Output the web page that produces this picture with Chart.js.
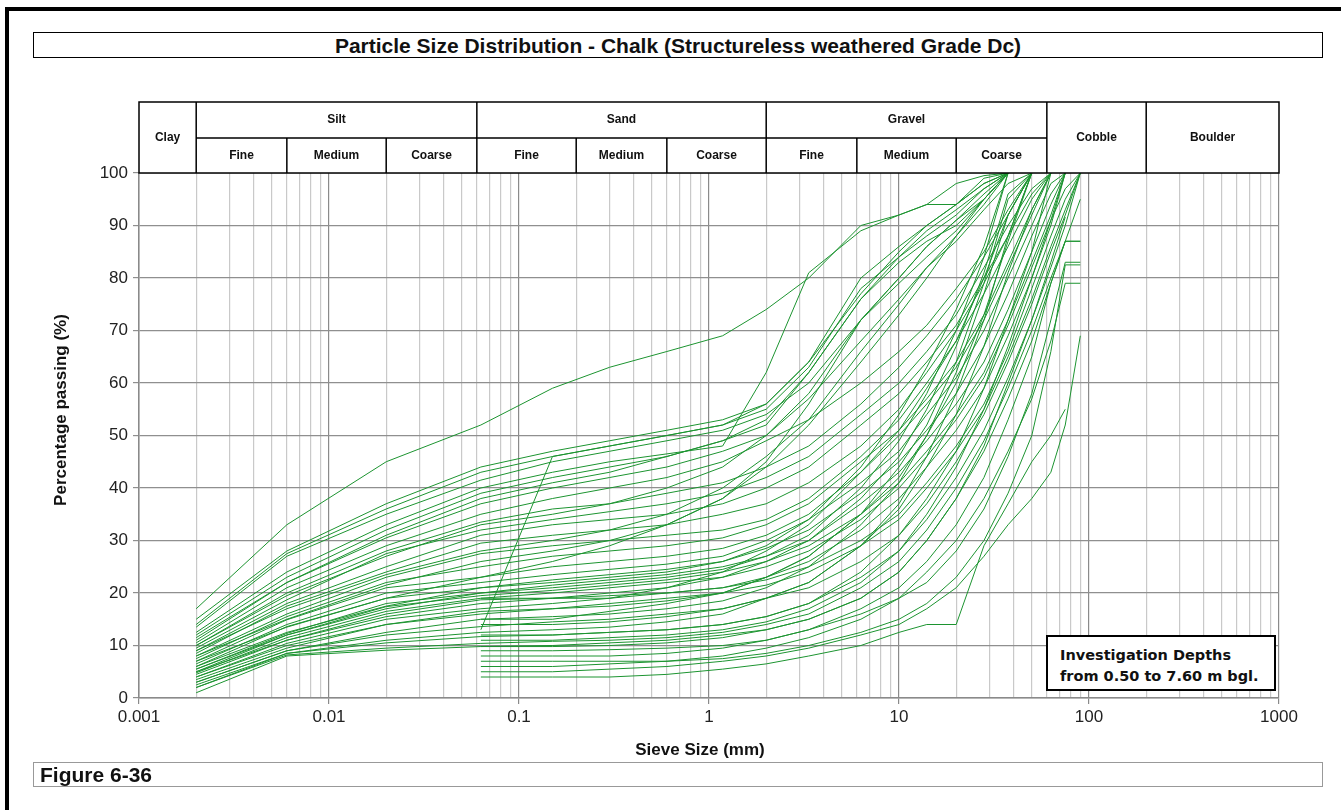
<!DOCTYPE html>
<html>
<head>
<meta charset="utf-8">
<script src="https://cdn.jsdelivr.net/npm/chart.js@4.4.1/dist/chart.umd.min.js"></script>
<style>
    body { margin: 0; width: 1341px; height: 810px; overflow: hidden; position: relative; background: #fff;
           font-family: "Liberation Sans", Arial, sans-serif; }
    #frame { position: absolute; left: 5px; top: 7px; width: 1400px; height: 900px;
             border-left: 4px solid #000; border-top: 4px solid #000; }
    #title { position: absolute; left: 33px; top: 32px; width: 1288px; height: 24px; border: 1px solid #000;
             text-align: center; font-weight: bold; font-size: 21px; line-height: 25px; color: #111; }
    #figure { position: absolute; left: 33px; top: 762px; width: 1282px; height: 23px; border: 1px solid #999;
              padding-left: 6px; font-weight: bold; font-size: 21px; line-height: 24px; color: #111; }
    #note { position: absolute; left: 1046px; top: 635px; width: 214px; height: 44px; border: 2px solid #000;
            background: #fff; padding: 8px 0 0 12px; font-family: "DejaVu Sans", sans-serif; font-weight: bold;
            font-size: 14.5px; line-height: 21px; color: #111; }
    canvas { position: absolute; left: 0; top: 0; }
</style>
</head>
<body>
<div id="frame"></div>
<div id="title">Particle Size Distribution - Chalk (Structureless weathered Grade Dc)</div>
<canvas id="psd" width="1341" height="810"></canvas>
<div id="note">Investigation Depths<br>from 0.50 to 7.60 m bgl.</div>
<div id="figure">Figure 6-36</div>

<script>
// sieve sizes (mm) the percentages below are read at
const sieveSizes = [0.002, 0.006, 0.02, 0.063, 0.15, 0.3, 0.6, 1.18, 2, 3.35, 6.3, 10, 14, 20, 28, 37.5, 50, 63, 75, 90];

// percentage passing per sample (null = not tested)
const samples = [
    [17, 33, 45, 52, 59, 63, 66, 69, 74, 80, 90, 92, 94, 98, 99.5, 100],
    [15, 28, 37, 44, 47, 49, 51, 53, 56, 64, 80, 86, 90, 94, 98, 100],
    [14, 27.5, 36, 43, 46, 48, 50, 52, 55, 63, 78, 84, 88, 92, 97, 100],
    [13.5, 27, 35, 41.5, 45, 47, 49, 51, 54, 60, 72, 79, 84, 89, 95, 100],
    [12.5, 24, 33, 40, 43, 45, 46.5, 48, 62, 81, 89, 92, 94, 94, 99, 100],
    [12, 23, 32, 39, 42, 44, 46, 49, 52, 62, 76, 83, 87, 90, 95, 100],
    [11, 22, 30.5, 37, 40, 42, 44, 47, 50, 57, 68, 76, 82, 87, 93, 98, 100],
    [10.5, 21, 29, 35, 38, 40, 42, 45, 49, 53, 60, 66, 71, 78, 85, 93, 100],
    [10, 20, 28, 33.5, 36, 37, 39, 41, 44, 48, 56, 63, 69, 76, 84, 92, 100],
    [9.5, 18.7, 27.5, 32, 34, 35.5, 37, 39, 42, 46, 54, 60, 66, 73, 82, 90, 97, 100],
    [9, 18, 25, 31, 33, 34, 35, 37, 40, 44, 52, 58, 64, 71, 80, 88, 96, 100],
    [8.5, 17.5, 24, 29.5, 31, 32, 33, 35, 37, 41, 48, 55, 62, 70, 79, 88, 100],
    [8, 16, 23, 27.5, 29, 30, 31, 32, 34, 38, 46, 53, 60, 68, 77, 86, 95, 100],
    [7.5, 15.5, 22, 25, 27, 28, 29, 30.5, 33, 37, 45, 51, 57, 64, 73, 83, 93, 100],
    [7, 14.9, 21, 23, 25, 26, 27, 28.5, 31, 35, 43, 50, 56, 63, 72, 82, 92, 100],
    [6.5, 14, 20, 22, 23.5, 24.5, 25.5, 27, 30, 34, 41, 47, 54, 61, 70, 80, 90, 98, 100],
    [6, 13.6, 19, 21, 22.5, 23.5, 24.5, 26, 28.5, 32, 39, 45, 51, 58, 67, 77, 88, 96, 100],
    [5.5, 12.3, 18, 20, 21.5, 22.5, 23.5, 25, 27, 30, 37, 43, 49, 56, 64, 74, 85, 94, 100],
    [5, 12, 17.4, 19.5, 20.5, 21.5, 22.5, 24, 26, 29, 35, 41, 47, 54, 62, 72, 83, 92, 100],
    [4.8, 11.5, 16.5, 19, 20, 21, 22, 23, 25, 28, 34, 40, 46, 53, 61, 71, 82, 91, 97, 100],
    [4.5, 11, 16, 18.7, 19, 19.5, 20, 21, 23, 26, 32, 38, 44, 51, 59, 69, 80, 90, 100],
    [4, 10.4, 15, 17, 18, 19, 20, 21, 22.5, 25, 30, 35, 41, 48, 56, 66, 78, 88, 95, 100],
    [3.5, 9.5, 14, 16, 17, 18, 19, 20, 21.5, 24, 29, 34, 40, 47, 55, 65, 76, 86, 93, 100],
    [3, 9, 12, 13.6, 14.5, 15, 16, 17, 19, 21, 26, 31, 37, 45, 54, 64, 75, 85, 92, 100],
    [2.5, 8.5, 10.5, 11.7, 12, 12.5, 13, 14, 15.5, 18, 23, 28, 34, 42, 51, 61, 72, 82, 90, 100],
    [2, 8.2, 9.5, 10.4, 10.8, 11, 11.5, 12.5, 14, 16, 21, 26, 32, 40, 49, 59, 70, 80, 87, 95],
    [1, 8, 9.1, 9.8, 10, 10.5, 11, 12, 13, 15, 19, 24, 30, 38, 47, 57, 68, 79, 87, 87],
    [9, 17, 23.5, 28, 30, 32, 35, 40, 46, 53, 66, 75, 82, 88, 94, 100],
    [8, 15, 21.5, 26, 28, 30, 33, 38, 45, 56, 72, 80, 86, 91, 96, 100],
    [7, 13.5, 19, 23, 26, 29, 33, 38, 44, 52, 64, 73, 80, 88, 95, 100],
    [6, 12.5, 17.5, 21, 22, 23, 24, 26, 29, 34, 44, 54, 63, 74, 86, 100],
    [5.5, 12, 17, 20, 21, 22, 23, 24.5, 27, 31, 40, 49, 58, 70, 84, 100],
    [5, 11, 15.5, 18, 19, 20, 21, 23, 26, 30, 38, 46, 55, 67, 81, 96, 100],
    [4, 10, 14, 16.5, 17, 17.5, 18.5, 20, 23, 27, 35, 44, 52, 64, 79, 95, 100],
    [3, 9, 12.5, 15, 15.5, 16, 17, 18.5, 21, 25, 33, 41, 50, 62, 77, 92, 100],
    [2, 8.5, 11, 12.5, 13, 13.5, 14.5, 16, 19, 22, 29, 37, 46, 58, 72, 88, 100],
    [11.5, 22, 31, 38, 41, 43, 46, 49, 53, 62, 76, 84, 89, 93, 97, 100],
    [10, 19.5, 27, 33, 35, 37, 40, 44, 50, 58, 72, 80, 86, 91, 95, 100],
    // sieve only samples, no hydrometer
    [null, null, null, 13, 46, 48, 50, 52, 56, 64, 77, 85, 90, 94, 98, 100],
    [null, null, null, 19, 19, 19, 21, 24, 28, 33, 43, 51, 59, 68, 80, 92, 100],
    [null, null, null, 15, 15, 16.5, 18, 20, 23, 27, 35, 42, 50, 60, 73, 87, 100],
    [null, null, null, 14, 14, 14.5, 15.5, 17, 19, 22, 29, 36, 44, 54, 67, 81, 93, 100],
    [null, null, null, 12, 12, 12.5, 13, 14, 15.5, 18, 24, 31, 38, 47, 59, 72, 85, 100],
    [null, null, null, 11, 11, 11.5, 12, 13, 14.5, 17, 22, 28, 35, 44, 55, 67, 80, 91, 100],
    [null, null, null, 9.8, 9.8, 10, 10.5, 11.5, 13, 15, 19, 24, 30, 38, 48, 60, 72, 83, 91.6],
    [null, null, null, 9, 9, 9.2, 9.5, 10, 11, 13, 17, 21, 26, 33, 42, 53, 65, 79, 87, 87],
    [null, null, null, 8, 8, 8, 8.5, 9.5, 11, 13, 16, 19, 22, 28, 36, 46, 58, 72, 83, 83],
    [null, null, null, 7, 7, 7, 7, 7.5, 8.5, 10, 12.5, 15, 18, 23, 30, 39, 50, 66, 82.5, 82.5],
    [null, null, null, 6, 6, 6.5, 7, 8, 9.5, 11.5, 15, 19, 24, 30, 38, 47, 57, 68, 79, 79],
    [null, null, null, 5, 5, 5.5, 6, 7, 8, 9.5, 12, 14, 17, 21, 27, 33, 38, 43, 52, 69],
    [null, null, null, 4, 4, 4, 4.5, 5.5, 6.5, 8, 10, 12.5, 14, 14, 29, 37, 45, 50, 55]
];

// axes
const xTickLabels = ['0.001', '0.01', '0.1', '1', '10', '100', '1000'];
const yTickLabels = [0, 10, 20, 30, 40, 50, 60, 70, 80, 90, 100];

// soil classification header
const fractionNames = ['Clay', 'Silt', 'Sand', 'Gravel', 'Cobble', 'Boulder'];
const fractionLimits = [0.001, 0.002, 0.06, 2, 60, 200, 1000];
const subNames = ['Fine', 'Medium', 'Coarse'];
const subLimits = [0.002, 0.006, 0.02, 0.06, 0.2, 0.6, 2, 6, 20, 60];

const lineColour = 'rgb(28, 148, 48)';
const fontFamily = '"Liberation Sans", Arial, sans-serif';

// every 1..9 x 10^n line of the log grid
const gridValues = [];
xTickLabels.forEach((lbl, i) => {
    const dec = parseFloat(lbl);
    const steps = i < xTickLabels.length - 1 ? [1, 2, 3, 4, 5, 6, 7, 8, 9] : [1];
    steps.forEach(s => gridValues.push(parseFloat((s * dec).toPrecision(3))));
});
const isDecade = v => xTickLabels.includes(String(v));

const datasets = samples.map(row => ({
    data: row.map((p, i) => (p == null ? null : { x: sieveSizes[i], y: p })).filter(Boolean),
    borderColor: lineColour,
    borderWidth: 1,
    pointRadius: 0,
    fill: false,
    tension: 0
}));

const headerPlugin = {
    id: 'header',
    afterDraw(chart) {
        const { ctx, chartArea } = chart;
        const xs = chart.scales.x;
        const px = v => xs.getPixelForValue(v);
        const top = 102, mid = 138, bot = chartArea.top;
        ctx.save();
        ctx.fillStyle = '#fff';
        ctx.fillRect(chartArea.left, top, chartArea.right - chartArea.left, bot - top);
        ctx.strokeStyle = '#000';
        ctx.lineWidth = 1.5;
        ctx.strokeRect(chartArea.left, top, chartArea.right - chartArea.left, bot - top);
        ctx.beginPath();
        ctx.moveTo(px(0.002), mid);
        ctx.lineTo(px(60), mid);
        fractionLimits.slice(1, -1).forEach(v => { ctx.moveTo(px(v), top); ctx.lineTo(px(v), bot); });
        subLimits.forEach(v => { ctx.moveTo(px(v), mid); ctx.lineTo(px(v), bot); });
        ctx.stroke();

        ctx.fillStyle = '#111';
        ctx.font = 'bold 12px ' + fontFamily;
        ctx.textAlign = 'center';
        ctx.textBaseline = 'middle';
        fractionNames.forEach((name, i) => {
            const cx = (px(fractionLimits[i]) + px(fractionLimits[i + 1])) / 2;
            const hasSubs = i >= 1 && i <= 3;
            ctx.fillText(name, cx, hasSubs ? (top + mid) / 2 : (top + bot) / 2);
        });
        for (let i = 0; i < subLimits.length - 1; i++) {
            const cx = (px(subLimits[i]) + px(subLimits[i + 1])) / 2;
            ctx.fillText(subNames[i % 3], cx, (mid + bot) / 2);
        }

        // axis titles
        ctx.font = 'bold 17px ' + fontFamily;
        ctx.fillText('Sieve Size (mm)', 700, 750);
        ctx.translate(61, 410);
        ctx.rotate(-Math.PI / 2);
        ctx.fillText('Percentage passing (%)', 0, 0);
        ctx.restore();
    }
};

new Chart(document.getElementById('psd'), {
    type: 'line',
    data: { datasets },
    plugins: [headerPlugin],
    options: {
        responsive: false,
        animation: false,
        parsing: false,
        layout: { padding: { left: 0, top: 173, right: 62, bottom: 82 } },
        plugins: { legend: { display: false }, tooltip: { enabled: false } },
        scales: {
            x: {
                type: 'logarithmic',
                min: 0.001,
                max: 1000,
                afterBuildTicks: scale => { scale.ticks = gridValues.map(v => ({ value: v })); },
                afterFit: scale => { scale.height = 30; },
                ticks: {
                    autoSkip: false,
                    maxRotation: 0,
                    padding: 3,
                    color: '#222',
                    font: { size: 17, family: fontFamily },
                    callback: v => (isDecade(v) ? String(v) : '')
                },
                grid: {
                    color: c => (c.tick && isDecade(c.tick.value) ? '#8a8a8a' : '#c9c9c9'),
                    tickColor: c => (c.tick && isDecade(c.tick.value) ? '#8a8a8a' : 'rgba(0,0,0,0)'),
                    lineWidth: 1.2,
                    tickLength: 6
                },
                border: { color: '#8a8a8a', width: 1.5 }
            },
            y: {
                min: 0,
                max: 100,
                afterBuildTicks: scale => { scale.ticks = yTickLabels.map(v => ({ value: v })); },
                afterFit: scale => { scale.width = 139; },
                ticks: {
                    padding: 5,
                    color: '#222',
                    font: { size: 17, family: fontFamily }
                },
                grid: { color: '#8f8f8f', lineWidth: 1.2, tickLength: 6 },
                border: { color: '#8a8a8a', width: 1.5 }
            }
        }
    }
});
</script>
</body>
</html>
